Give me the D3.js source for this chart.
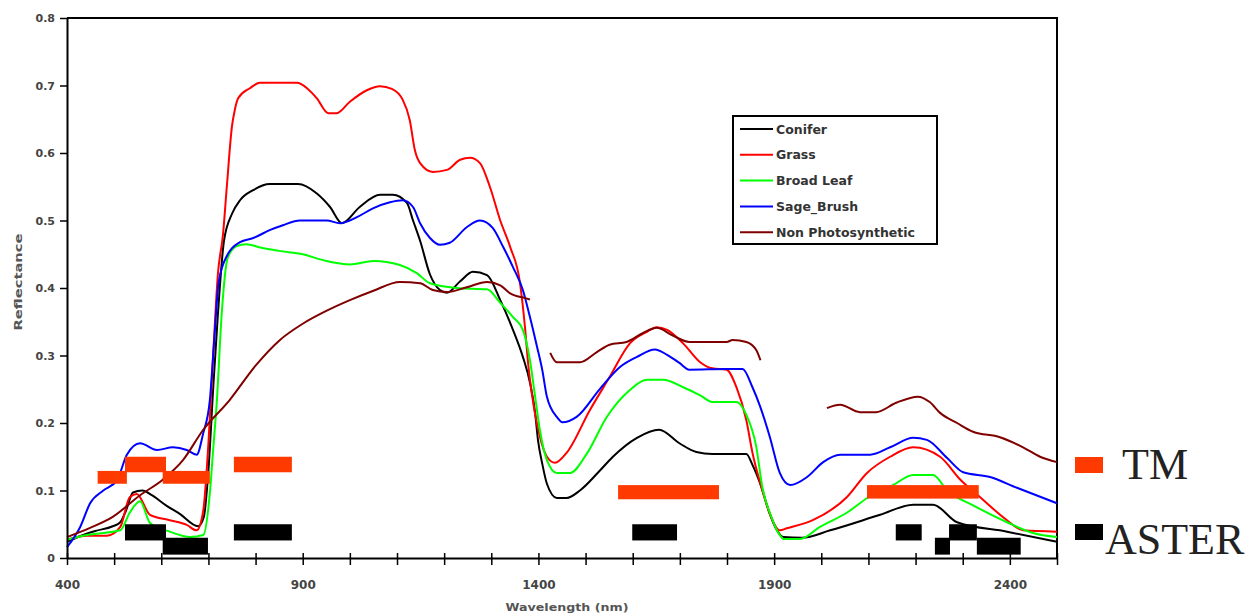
<!DOCTYPE html>
<html>
<head>
<meta charset="utf-8">
<script src="https://cdn.jsdelivr.net/npm/d3@7/dist/d3.min.js"></script>
<style>
  body { margin: 0; background: #fff; }
  svg { display: block; }
  .tick text { font-family: "DejaVu Sans", sans-serif; font-weight: bold; fill: #444; }
</style>
</head>
<body>
<div id="chart"></div>
<script>
// wavelength (nm), reflectance pairs
var conifer = [[400,0.024],[430,0.033],[460,0.04],[497,0.047],[513,0.053],[525,0.07],[540,0.097],[560,0.1],[580,0.093],[610,0.078],[640,0.065],[678,0.047],[690,0.06],[700,0.13],[710,0.25],[720,0.36],[733,0.47],[750,0.51],[767,0.53],[795,0.545],[830,0.554],[890,0.554],[930,0.54],[958,0.52],[983,0.496],[1021,0.52],[1064,0.538],[1091,0.538],[1121,0.526],[1134,0.5],[1149,0.47],[1170,0.42],[1191,0.397],[1206,0.393],[1234,0.41],[1261,0.424],[1291,0.419],[1319,0.382],[1346,0.338],[1367,0.298],[1382,0.26],[1393,0.215],[1399,0.175],[1408,0.14],[1418,0.11],[1439,0.089],[1460,0.089],[1488,0.1],[1531,0.13],[1558,0.15],[1609,0.178],[1656,0.19],[1699,0.17],[1735,0.157],[1769,0.154],[1841,0.154],[1854,0.138],[1873,0.105],[1888,0.071],[1906,0.041],[1919,0.031],[1959,0.03],[2019,0.041],[2125,0.064],[2195,0.079],[2237,0.079],[2288,0.053],[2394,0.039],[2500,0.024]];

var grass = [[400,0.027],[442,0.033],[485,0.033],[513,0.046],[533,0.09],[548,0.095],[576,0.064],[618,0.056],[654,0.049],[675,0.041],[689,0.07],[700,0.17],[710,0.3],[720,0.42],[731,0.48],[739,0.55],[750,0.64],[756,0.664],[763,0.681],[788,0.696],[809,0.704],[888,0.704],[909,0.696],[930,0.681],[954,0.659],[972,0.659],[1000,0.676],[1036,0.693],[1064,0.699],[1089,0.695],[1112,0.679],[1127,0.649],[1138,0.604],[1149,0.585],[1176,0.572],[1206,0.575],[1234,0.59],[1255,0.593],[1276,0.585],[1297,0.55],[1319,0.5],[1340,0.461],[1361,0.407],[1372,0.338],[1378,0.289],[1389,0.23],[1403,0.18],[1418,0.15],[1435,0.141],[1460,0.156],[1509,0.219],[1551,0.268],[1594,0.318],[1630,0.335],[1651,0.342],[1673,0.338],[1707,0.318],[1743,0.29],[1769,0.281],[1799,0.279],[1820,0.253],[1841,0.204],[1854,0.156],[1873,0.105],[1890,0.067],[1912,0.041],[1927,0.044],[1982,0.056],[2054,0.09],[2097,0.126],[2146,0.15],[2195,0.164],[2252,0.15],[2295,0.116],[2337,0.09],[2394,0.056],[2428,0.041],[2500,0.039]];

var broadLeaf = [[400,0.027],[442,0.034],[513,0.041],[533,0.067],[555,0.084],[576,0.052],[618,0.039],[661,0.031],[689,0.034],[703,0.096],[710,0.16],[718,0.234],[728,0.36],[741,0.445],[760,0.462],[780,0.465],[810,0.46],[850,0.455],[900,0.45],[950,0.44],[1000,0.435],[1050,0.44],[1106,0.434],[1142,0.422],[1170,0.407],[1227,0.4],[1291,0.398],[1319,0.378],[1346,0.357],[1367,0.338],[1382,0.293],[1393,0.239],[1403,0.19],[1418,0.145],[1439,0.126],[1467,0.126],[1503,0.155],[1545,0.209],[1594,0.249],[1630,0.264],[1665,0.264],[1707,0.253],[1743,0.241],[1769,0.231],[1820,0.231],[1841,0.212],[1862,0.165],[1875,0.105],[1894,0.061],[1912,0.034],[1921,0.028],[1955,0.028],[1997,0.046],[2054,0.067],[2100,0.09],[2152,0.108],[2195,0.123],[2237,0.123],[2267,0.1],[2322,0.078],[2394,0.053],[2449,0.037],[2500,0.031]];

var sageBrush = [[400,0.016],[428,0.046],[449,0.081],[477,0.1],[506,0.115],[527,0.153],[555,0.17],[591,0.16],[625,0.164],[654,0.16],[675,0.153],[689,0.185],[703,0.234],[712,0.32],[722,0.41],[741,0.45],[767,0.468],[795,0.474],[831,0.486],[858,0.493],[894,0.5],[951,0.5],[979,0.496],[1015,0.505],[1049,0.518],[1085,0.527],[1112,0.53],[1134,0.52],[1149,0.496],[1170,0.474],[1191,0.464],[1212,0.467],[1248,0.49],[1276,0.5],[1303,0.489],[1325,0.461],[1346,0.431],[1367,0.397],[1382,0.357],[1397,0.313],[1408,0.279],[1418,0.239],[1439,0.209],[1451,0.201],[1481,0.209],[1531,0.251],[1573,0.283],[1609,0.298],[1647,0.309],[1673,0.301],[1699,0.289],[1720,0.279],[1799,0.28],[1833,0.28],[1854,0.253],[1870,0.225],[1891,0.179],[1912,0.126],[1934,0.108],[1970,0.12],[2004,0.142],[2040,0.153],[2104,0.153],[2146,0.164],[2195,0.178],[2224,0.175],[2267,0.148],[2301,0.127],[2358,0.12],[2415,0.104],[2500,0.081]];

// null = no data (water absorption gaps)
var nonPhoto = [[400,0.031],[450,0.045],[497,0.061],[555,0.093],[603,0.116],[646,0.145],[689,0.19],[745,0.234],[800,0.285],[850,0.322],[900,0.347],[950,0.366],[1000,0.382],[1050,0.396],[1106,0.409],[1149,0.407],[1176,0.397],[1206,0.394],[1248,0.401],[1291,0.409],[1319,0.404],[1340,0.392],[1372,0.385],[1382,0.383],null,[1425,0.304],[1439,0.29],[1488,0.29],[1524,0.305],[1551,0.316],[1587,0.32],[1621,0.333],[1651,0.341],[1684,0.33],[1720,0.32],[1799,0.32],[1812,0.323],[1841,0.32],[1862,0.308],[1871,0.293],null,[2012,0.222],[2040,0.227],[2082,0.216],[2116,0.216],[2159,0.23],[2205,0.239],[2230,0.231],[2252,0.215],[2288,0.2],[2322,0.187],[2379,0.179],[2428,0.164],[2464,0.15],[2500,0.142]];

var seriesNames = ["Conifer", "Grass", "Broad Leaf", "Sage_Brush", "Non Photosynthetic"];
var seriesColors = ["#000000", "#ff0000", "#00ff00", "#0000ff", "#800000"];
var seriesData = [conifer, grass, broadLeaf, sageBrush, nonPhoto];

// sensor bands: [start nm, end nm, low refl, high refl]
var tmBands = [[465,527,0.11,0.129],[523,610,0.127,0.15],[603,703,0.11,0.129],[754,877,0.127,0.15],[1569,1783,0.087,0.108],[2097,2334,0.088,0.108]];
var asterBands = [[523,610,0.026,0.05],[603,699,0.005,0.03],[754,877,0.026,0.05],[1599,1694,0.026,0.05],[2158,2213,0.026,0.05],[2241,2273,0.005,0.03],[2271,2330,0.026,0.05],[2330,2423,0.005,0.03]];

var yTicks = [0, 0.1, 0.2, 0.3, 0.4, 0.5, 0.6, 0.7, 0.8];
var xTicks = d3.range(400, 2501, 100);
var xLabels = [400, 900, 1400, 1900, 2400];

var width = 1254, height = 616;
var plotLeft = 67, plotRight = 1057, plotTop = 18, plotBottom = 558;

var svg = d3.select("#chart").append("svg")
	.attr("width", width)
	.attr("height", height);

var x = d3.scaleLinear().domain([400, 2500]).range([plotLeft, plotRight]);
var y = d3.scaleLinear().domain([0, 0.8]).range([plotBottom, plotTop]);

// frame top and right
svg.append("path")
	.attr("d", "M" + plotLeft + "," + plotTop + "H" + plotRight + "V" + plotBottom)
	.attr("fill", "none")
	.attr("stroke", "#000")
	.attr("stroke-width", 2);

var line = d3.line()
	.defined(function(d) { return d; })
	.x(function(d) { return x(d[0]); })
	.y(function(d) { return y(d[1]); })
	.curve(d3.curveMonotoneX);

svg.selectAll(".series")
	.data(seriesData)
	.enter().append("path")
	.attr("class", "series")
	.attr("d", line)
	.attr("fill", "none")
	.attr("stroke", function(d, i) { return seriesColors[i]; })
	.attr("stroke-width", 2);

svg.selectAll(".tm")
	.data(tmBands)
	.enter().append("rect")
	.attr("class", "tm")
	.attr("x", function(d) { return x(d[0]); })
	.attr("width", function(d) { return x(d[1]) - x(d[0]); })
	.attr("y", function(d) { return y(d[3]); })
	.attr("height", function(d) { return y(d[2]) - y(d[3]); })
	.attr("fill", "#ff3a00");

svg.selectAll(".aster")
	.data(asterBands)
	.enter().append("rect")
	.attr("class", "aster")
	.attr("x", function(d) { return x(d[0]); })
	.attr("width", function(d) { return x(d[1]) - x(d[0]); })
	.attr("y", function(d) { return y(d[3]); })
	.attr("height", function(d) { return y(d[2]) - y(d[3]); })
	.attr("fill", "#000");

// axes
var yAxis = svg.append("g")
	.attr("transform", "translate(" + plotLeft + ",0)")
	.call(d3.axisLeft(y).tickValues(yTicks).tickSize(7).tickSizeOuter(0).tickPadding(5)
		.tickFormat(function(d) { return d === 0 ? "0" : d.toFixed(1); }));
yAxis.selectAll("text").style("font-size", "11px");

var xAxis = svg.append("g")
	.attr("transform", "translate(0," + plotBottom + ")")
	.call(d3.axisBottom(x).tickValues(xTicks).tickSize(7).tickSizeOuter(0).tickPadding(15)
		.tickFormat(function(d) { return xLabels.indexOf(d) >= 0 ? d : ""; }));
xAxis.selectAll("text").style("font-size", "12px");
xAxis.selectAll(".tick line").attr("y1", -5).attr("y2", 7);

svg.selectAll(".domain").attr("stroke-width", 2);
svg.selectAll(".tick line").attr("stroke-width", 1.5);

svg.append("text")
	.attr("transform", "translate(22,282) rotate(-90)")
	.attr("text-anchor", "middle")
	.attr("textLength", 97)
	.attr("lengthAdjust", "spacingAndGlyphs")
	.style("font-family", "DejaVu Sans, sans-serif")
	.style("font-weight", "bold")
	.style("font-size", "10px")
	.style("fill", "#555")
	.text("Reflectance");

svg.append("text")
	.attr("x", 567)
	.attr("y", 611)
	.attr("text-anchor", "middle")
	.attr("textLength", 123)
	.attr("lengthAdjust", "spacingAndGlyphs")
	.style("font-family", "DejaVu Sans, sans-serif")
	.style("font-weight", "bold")
	.style("font-size", "10px")
	.style("fill", "#555")
	.text("Wavelength (nm)");

// legend
var legend = svg.append("g").attr("transform", "translate(733,116)");
legend.append("rect")
	.attr("width", 204)
	.attr("height", 128)
	.attr("fill", "#fff")
	.attr("stroke", "#000")
	.attr("stroke-width", 2);

var entry = legend.selectAll(".entry")
	.data(seriesNames)
	.enter().append("g")
	.attr("class", "entry")
	.attr("transform", function(d, i) { return "translate(0," + (13 + i * 25.8) + ")"; });

entry.append("line")
	.attr("x1", 7).attr("x2", 40)
	.attr("stroke", function(d, i) { return seriesColors[i]; })
	.attr("stroke-width", 2);

entry.append("text")
	.attr("x", 43)
	.attr("y", 4.5)
	.style("font-family", "DejaVu Sans, sans-serif")
	.style("font-weight", "bold")
	.style("font-size", "12.5px")
	.style("fill", "#333")
	.text(function(d) { return d; });

// sensor key
var sensors = [{name: "TM", color: "#ff3a00"}, {name: "ASTER", color: "#000"}];
var key = svg.selectAll(".sensor")
	.data(sensors)
	.enter().append("g")
	.attr("class", "sensor")
	.attr("transform", function(d, i) { return "translate(1075," + (457 + i * 67) + ")"; });

key.append("rect")
	.attr("width", 28)
	.attr("height", 16)
	.attr("fill", function(d) { return d.color; });

key.append("text")
	.attr("x", function(d, i) { return i === 0 ? 47 : 30; })
	.attr("y", function(d, i) { return i === 0 ? 22 : 30; })
	.style("font-family", "Liberation Serif, Times New Roman, serif")
	.style("font-size", "44px")
	.style("fill", "#222")
	.text(function(d) { return d.name; });
</script>
</body>
</html>
